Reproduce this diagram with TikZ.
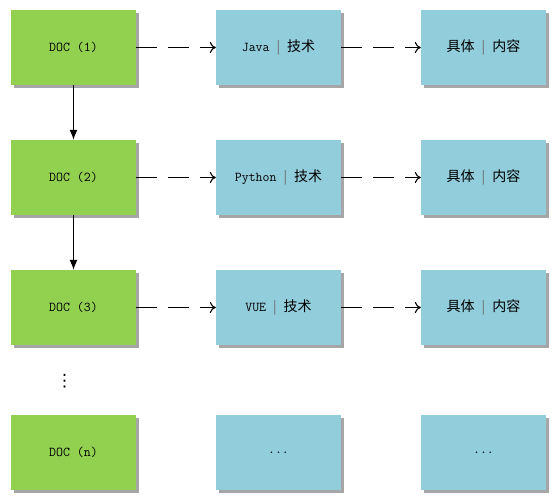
\documentclass[tikz,border=0pt]{standalone}
\usepackage{fontspec}
\newfontfamily\cjk{Noto Sans CJK SC}
\newfontfamily\djv{DejaVu Sans}
\usetikzlibrary{arrows.meta,shadows}
\definecolor{docgreen}{HTML}{92D050}
\definecolor{techblue}{HTML}{92CDDC}
\tikzset{
  boxbase/.style={minimum width=125pt, minimum height=75pt, inner sep=0pt, draw=none,
    drop shadow={shadow xshift=3pt, shadow yshift=-3pt, fill=black, opacity=0.35}},
  docbox/.style={boxbase, fill=docgreen},
  techbox/.style={boxbase, fill=techblue},
  dasharrow/.style={line width=1.1pt, dash pattern=on 21pt off 11pt, -{To[length=6pt,width=11pt]}},
  downarrow/.style={line width=1.1pt, -{Latex[length=10pt,width=8pt]}},
}
\newcommand{\mono}{\ttfamily\fontsize{13.5}{15}\selectfont}
\newcommand{\sepbar}{\hspace{7pt}{\cjk\fontsize{13}{15}\selectfont\color{black!60}|}\hspace{7pt}}
\newcommand{\cjktxt}[1]{{\cjk\fontsize{14}{16}\selectfont #1}}
\begin{document}
\begin{tikzpicture}[x=1pt,y=-1pt]
\useasboundingbox (0,0) rectangle (560,500);
% column 1
\node[docbox] (d1) at (73.5,47.5) {\mono DOC (1)};
\node[docbox] (d2) at (73.5,177.5) {\mono DOC (2)};
\node[docbox] (d3) at (73.5,307.5) {\mono DOC (3)};
\node[docbox] (dn) at (73.5,452.5) {\mono DOC (n)};
% column 2
\node[techbox] (t1) at (278.5,47.5) {{\mono Java}\sepbar\cjktxt{技术}};
\node[techbox] (t2) at (278.5,177.5) {{\mono Python}\sepbar\cjktxt{技术}};
\node[techbox] (t3) at (278.5,307.5) {{\mono VUE}\sepbar\cjktxt{技术}};
\node[techbox] (tn) at (278.5,452.5) {\mono ...};
% column 3
\node[techbox] (c1) at (483.5,47.5) {\cjktxt{具体}\sepbar\cjktxt{内容}};
\node[techbox] (c2) at (483.5,177.5) {\cjktxt{具体}\sepbar\cjktxt{内容}};
\node[techbox] (c3) at (483.5,307.5) {\cjktxt{具体}\sepbar\cjktxt{内容}};
\node[techbox] (cn) at (483.5,452.5) {\mono ...};
% vertical ellipsis
\node[inner sep=0pt] (vd) at (64.5,381) {\djv\fontsize{17}{17}\selectfont ⋮};
% arrows
\draw[downarrow] (d1) -- (d2);
\draw[downarrow] (d2) -- (d3);
\foreach \i in {1,2,3}{
  \draw[dasharrow] (d\i.east) -- (t\i.west);
  \draw[dasharrow] (t\i.east) -- (c\i.west);
}
\end{tikzpicture}
\end{document}
